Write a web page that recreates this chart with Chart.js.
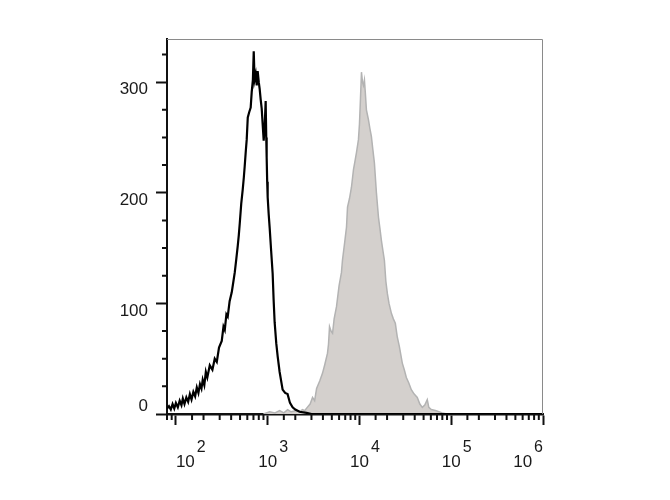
<!DOCTYPE html>
<html>
<head>
<meta charset="utf-8">
<script src="https://cdn.jsdelivr.net/npm/chart.js@4.4.1/dist/chart.umd.min.js"></script>
<style>
  body { margin: 0; background: #fff; }
</style>
</head>
<body>
<canvas id="chart" width="670" height="500"></canvas>
<script>
// isotype control (black outline)
const blackX = [80, 84, 88, 92, 96, 100, 105, 110, 115, 119, 124, 130, 136, 142, 148, 155, 162, 169, 176, 183,
  190, 196, 204, 212, 220, 234, 250, 265, 279, 295, 316, 330, 341, 355, 367, 385, 406, 420, 438, 455,
  472, 485, 496, 515, 535, 550, 562, 578, 591, 607, 630, 653, 670, 690, 705, 720, 741, 760, 778, 800,
  818, 840, 861, 885, 905, 930, 951, 965, 975, 988, 1000, 1025, 1052, 1090, 1133, 1160, 1191, 1240, 1285, 1350,
  1455, 1550, 1648, 1750, 1870, 2000, 2228, 2655, 3000, 1000000];
const blackY = [5, 7, 4, 9, 5, 10, 6, 12, 8, 14, 9, 15, 11, 18, 13, 20, 16, 24, 19, 27,
  23, 31, 26, 38, 33, 44, 40, 50, 47, 60, 66, 79, 76, 90, 88, 102, 110, 118, 128, 140,
  152, 162, 172, 190, 203, 214, 224, 238, 248, 268, 273, 277, 291, 302, 328, 302, 307, 297, 310, 300,
  294, 284, 276, 260, 247, 262, 283, 250, 232, 210, 196, 181, 168, 148, 127, 104, 83, 64, 52, 38,
  22, 19, 18, 10, 6, 4, 2, 1, 0, 0];

// stained sample (grey filled)
const greyX = [900, 1050, 1200, 1350, 1500, 1650, 1800, 2000, 2200, 2400, 2523, 2700, 2900, 3083, 3250, 3412, 3700, 3963, 4200, 4487,
  4600, 4720, 4900, 5093, 5300, 5623, 6000, 6368, 6531, 6900, 7228, 7413, 7800, 8185, 8610, 9000, 9270, 9750, 10000, 10250,
  10520, 10790, 11050, 11330, 11600, 11910, 12530, 13000, 13490, 14000, 14550, 15310, 16110, 16700, 17340, 18000, 18700, 19400, 20140, 21000,
  22280, 23400, 24600, 25800, 27230, 29310, 30800, 32430, 34500, 36730, 39500, 42660, 45500, 48420, 51500, 54830, 57000, 60680, 68710, 79800, 90000];
const greyY = [0, 2, 1, 3, 1, 4, 2, 3, 2, 4, 3, 6, 9, 15, 12, 23, 30, 37, 45, 55,
  63, 79, 75, 73, 86, 97, 116, 128, 139, 155, 169, 187, 195, 205, 221, 230, 236, 248, 262, 284,
  309, 300, 297, 302, 290, 275, 266, 258, 251, 239, 227, 200, 178, 168, 157, 148, 139, 120, 109, 100,
  91, 86, 82, 70, 61, 46, 40, 33, 28, 22, 18, 15, 9, 6, 8, 13, 6, 4, 3, 1, 0];

const yLabels = [0, 100, 200, 300];
const xLabelValues = [100, 1000, 10000, 100000, 1000000];
const xLabelExps = ['2', '3', '4', '5', '6'];

const isDecade = v => Math.abs(Math.log10(v) - Math.round(Math.log10(v))) < 1e-6;

const axisDecor = {
  id: 'axisDecor',
  afterDraw(chart) {
    const ctx = chart.ctx;
    const a = chart.chartArea;
    const x = chart.scales.x;
    const y = chart.scales.y;
    ctx.save();
    // thin top / right frame
    ctx.strokeStyle = '#8a8a8a';
    ctx.lineWidth = 1;
    ctx.beginPath();
    ctx.moveTo(a.left, a.top + 0.5);
    ctx.lineTo(a.right - 0.5, a.top + 0.5);
    ctx.lineTo(a.right - 0.5, a.bottom);
    ctx.stroke();

    // minor ticks
    ctx.strokeStyle = '#111';
    ctx.lineWidth = 2;
    ctx.beginPath();
    x.ticks.forEach(t => {
      if (isDecade(t.value) || t.value >= x.max) return;
      const p = x.getPixelForValue(t.value);
      ctx.moveTo(p, a.bottom);
      ctx.lineTo(p, a.bottom + 6);
    });
    y.ticks.forEach(t => {
      if (t.value % 25 !== 0 || t.value % 100 === 0) return;
      const p = y.getPixelForValue(t.value);
      ctx.moveTo(a.left - 5, p);
      ctx.lineTo(a.left, p);
    });
    ctx.stroke();

    // labels
    ctx.fillStyle = '#1a1a1a';
    ctx.font = '17px "Liberation Sans", Arial, sans-serif';
    ctx.textAlign = 'right';
    yLabels.forEach(v => {
      const p = y.getPixelForValue(v);
      ctx.textBaseline = v === 0 ? 'bottom' : 'top';
      ctx.fillText(String(v), 148, v === 0 ? p + 1 : p - 1);
    });

    ctx.textBaseline = 'alphabetic';
    ctx.textAlign = 'left';
    xLabelValues.forEach((v, i) => {
      const p = x.getPixelForValue(v);
      ctx.font = '17px "Liberation Sans", Arial, sans-serif';
      const wBase = ctx.measureText('10').width;
      ctx.font = '16px "Liberation Sans", Arial, sans-serif';
      const wExp = ctx.measureText(xLabelExps[i]).width;
      let left = p - wBase / 2;
      if (i === 0) left = p;
      if (i === xLabelValues.length - 1) left = p - wBase - 2 - wExp;
      ctx.font = '17px "Liberation Sans", Arial, sans-serif';
      ctx.fillText('10', left, a.bottom + 53);
      ctx.font = '16px "Liberation Sans", Arial, sans-serif';
      ctx.fillText(xLabelExps[i], left + wBase + 2, a.bottom + 38);
    });
    ctx.restore();
  }
};

const ctx = document.getElementById('chart').getContext('2d');
const chart = new Chart(ctx, {
  type: 'line',
  data: {
    datasets: [{
      label: 'stained',
      data: greyX.map((v, i) => ({ x: v, y: greyY[i] })),
      borderColor: '#b3b3b3',
      backgroundColor: '#d4d0cd',
      borderWidth: 1.5,
      fill: 'origin',
      pointRadius: 0,
      tension: 0,
      order: 2
    }, {
      label: 'control',
      data: blackX.map((v, i) => ({ x: v, y: blackY[i] })),
      borderColor: '#000',
      borderWidth: 2.2,
      fill: false,
      pointRadius: 0,
      tension: 0,
      order: 1
    }]
  },
  options: {
    responsive: false,
    animation: false,
    layout: { padding: { left: 156, right: 127, top: 39, bottom: 75 } },
    plugins: { legend: { display: false }, tooltip: { enabled: false } },
    scales: {
      x: {
        type: 'logarithmic',
        min: 80,
        max: 1000000,
        ticks: { display: false },
        grid: {
          drawOnChartArea: false,
          tickLength: 11,
          tickWidth: 2,
          tickColor: c => (c.tick && isDecade(c.tick.value)) ? '#111' : 'rgba(0,0,0,0)'
        },
        border: { color: '#111', width: 2.5 }
      },
      y: {
        min: 0,
        max: 339,
        ticks: { display: false, stepSize: 25 },
        grid: {
          drawOnChartArea: false,
          tickLength: 11,
          tickWidth: 2,
          tickColor: c => (c.tick && c.tick.value % 100 === 0) ? '#111' : 'rgba(0,0,0,0)'
        },
        border: { color: '#111', width: 2 }
      }
    }
  },
  plugins: [axisDecor]
});
</script>
</body>
</html>
